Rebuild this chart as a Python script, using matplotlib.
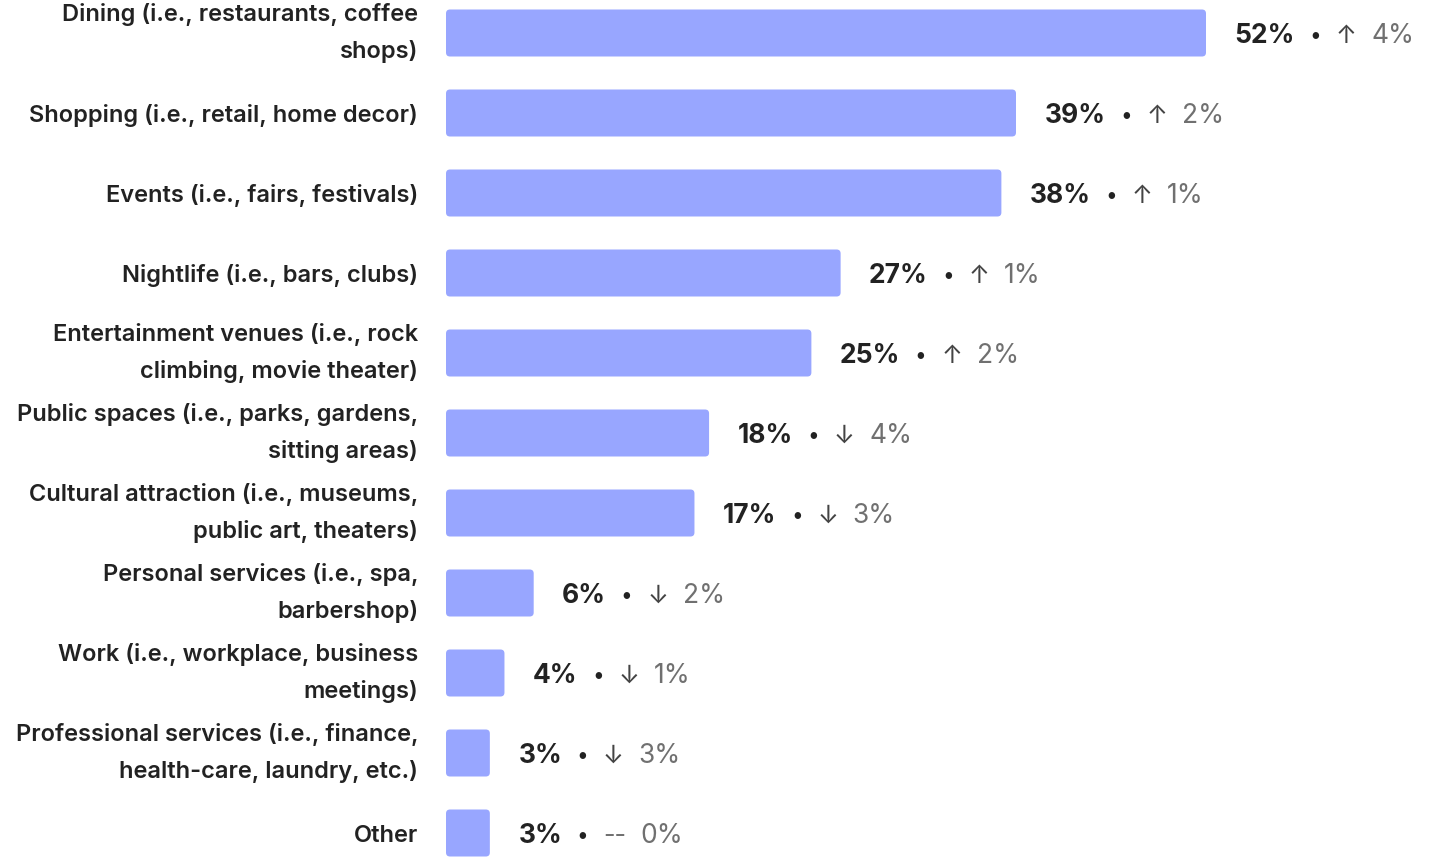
import matplotlib.pyplot as plt
from matplotlib.patches import FancyBboxPatch
from matplotlib.offsetbox import TextArea, HPacker, AnnotationBbox

plt.rcParams['font.family'] = ['Inter', 'DejaVu Sans']

# places people visited, share of respondents and change since last wave
categories = [
    "Dining (i.e., restaurants, coffee\nshops)",
    "Shopping (i.e., retail, home decor)",
    "Events (i.e., fairs, festivals)",
    "Nightlife (i.e., bars, clubs)",
    "Entertainment venues (i.e., rock\nclimbing, movie theater)",
    "Public spaces (i.e., parks, gardens,\nsitting areas)",
    "Cultural attraction (i.e., museums,\npublic art, theaters)",
    "Personal services (i.e., spa,\nbarbershop)",
    "Work (i.e., workplace, business\nmeetings)",
    "Professional services (i.e., finance,\nhealth-care, laundry, etc.)",
    "Other",
]
shares = [52, 39, 38, 27, 25, 18, 17, 6, 4, 3, 3]
changes = [4, 2, 1, 1, 2, -4, -3, -2, -1, -3, 0]

bar_color = '#98a6ff'
dark = '#222222'
grey = '#707070'

fig = plt.figure(figsize=(14.38, 8.59), dpi=100)
ax = fig.add_axes([446 / 1438, 0, 992 / 1438, 1])

px_per_pct = 760 / 52
ax.set_xlim(0, 992 / px_per_pct)
ax.set_ylim((859 - 33) / 80, -33 / 80)

ys = list(range(len(categories)))
bars = ax.barh(ys, shares, height=47 / 80, color='none')

# rounded bars drawn over the plain ones
for b in bars:
    x0, y0 = b.get_x(), b.get_y()
    w, h = b.get_width(), b.get_height()
    r = 4 / px_per_pct
    ax.add_patch(FancyBboxPatch((x0, y0), w, h,
                                boxstyle=f"round,pad=0,rounding_size={r}",
                                mutation_aspect=(1 / 80) / (1 / px_per_pct),
                                facecolor=bar_color, edgecolor='none'))

ax.set_yticks(ys)
ax.set_yticklabels(categories, fontsize=17, fontweight='semibold',
                   color=dark, linespacing=1.75, ha='right')
for lbl in ax.get_yticklabels():
    if "\n" in lbl.get_text():
        lbl.set_va('center')
ax.tick_params(axis='y', length=0, pad=20)
ax.tick_params(axis='x', bottom=False, labelbottom=False)
for s in ax.spines.values():
    s.set_visible(False)

fs = 19
for y, v, c in zip(ys, shares, changes):
    if c > 0:
        arrow, acol = "\u2191", '#444444'
    elif c < 0:
        arrow, acol = "\u2193", '#444444'
    else:
        arrow, acol = "--", grey
    parts = [
        TextArea(f"{v}%", textprops=dict(fontsize=fs, fontweight='bold', color=dark)),
        TextArea("\u2022", textprops=dict(fontsize=fs - 4, color=dark)),
        TextArea(arrow, textprops=dict(fontsize=fs - 1, color=acol)),
        TextArea(f"{abs(c)}%", textprops=dict(fontsize=fs, color=grey)),
    ]
    box = HPacker(children=parts, align='center', pad=0, sep=10.5)
    ab = AnnotationBbox(box, (v, y), xybox=(20.5, -2.2), xycoords='data',
                        boxcoords='offset points', box_alignment=(0, 0.5),
                        frameon=False, pad=0)
    ax.add_artist(ab)

fig.savefig('out.png', dpi=100)
